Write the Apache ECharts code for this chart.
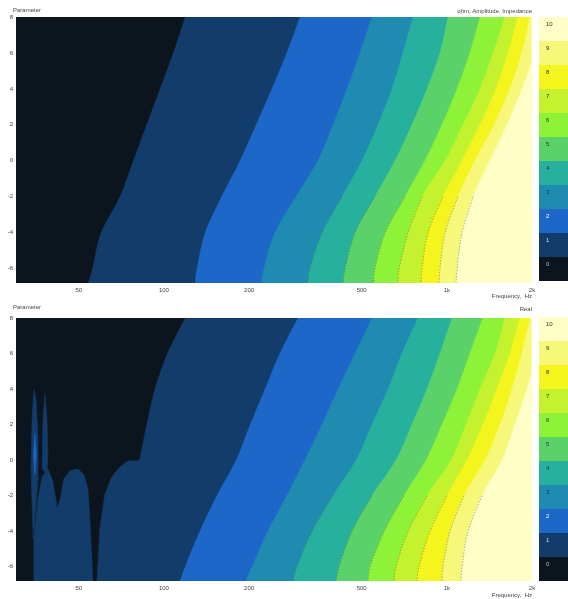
<!DOCTYPE html>
<html><head><meta charset="utf-8">
<script src="https://cdn.jsdelivr.net/npm/echarts@6/dist/echarts.min.js"></script>
<style>html,body{margin:0;padding:0;background:#fff}#c{width:568px;height:599px}</style>
</head><body><div id="c"></div>
<script>
// ---- axes / scale data ----
const params = [8, 6, 4, 2, 0, -2, -4, -6, -6.8];
const levels = [0, 1, 2, 3, 4, 5, 6, 7, 8, 9, 10];
const levelColors = ['#0c141e','#123c6a','#1c67c8','#1f8bb1','#27b09e','#5bd16a','#8df238','#c4f22e','#f5f51e','#f7f77a','#fefec6'];
const levelLabelColors = ['#bbbbbb','#dddddd','#ffffff','#223344','#333','#333','#333','#333','#333','#333','#333'];
const xTicks = [50, 100, 200, 500, 1000, 2000];
const yTicks = [-6, -4, -2, 0, 2, 4, 6, 8];
const freqMin = 30, freqMax = 2000, paramMin = -6.8, paramMax = 8;

// ---- top chart: ohm, Amplitude, Impedance — frequency (Hz) where level k begins, per params row ----
const ampB1  = [119, 108, 97, 87, 78, 70, 60, 56, 54];
const ampB2  = [303, 272, 241, 212, 186, 160, 140, 131, 129];
const ampB3  = [544, 493, 444, 396, 350, 293, 247, 226, 222];
const ampB4  = [760, 700, 640, 571, 501, 426, 362, 328, 323];
const ampB5  = [1010, 946, 851, 753, 656, 557, 474, 437, 430];
const ampB6  = [1310, 1207, 1087, 962, 837, 711, 605, 557, 553];
const ampB7  = [1605, 1457, 1310, 1141, 985, 817, 729, 678, 672];
const ampB8  = [1785, 1645, 1492, 1310, 1132, 969, 858, 817, 811];
const ampB9  = [1968, 1843, 1672, 1469, 1258, 1095, 985, 946, 938];
const ampB10 = [2223, 2050, 1843, 1632, 1421, 1238, 1132, 1087, 1078];

// ---- bottom chart: Real ----
const realB1  = [119, 103, 93, 87, 82, 77, 73, 71, 70];
const realB2  = [298, 257, 228, 202, 180, 154, 134, 119, 114];
const realB3  = [544, 474, 413, 362, 315, 272, 233, 205, 195];
const realB4  = [791, 694, 620, 544, 478, 396, 334, 295, 286];
const realB5  = [1043, 946, 851, 753, 661, 544, 462, 416, 406];
const realB6  = [1342, 1207, 1087, 962, 844, 706, 600, 535, 527];
const realB7  = [1605, 1480, 1310, 1169, 1035, 851, 729, 661, 651];
const realB8  = [1813, 1672, 1504, 1342, 1178, 1001, 872, 797, 785];
const realB9  = [1968, 1843, 1700, 1541, 1364, 1150, 1026, 969, 962];
const realB10 = [2223, 2083, 1921, 1741, 1567, 1332, 1188, 1132, 1122];
// low-frequency islands of the Real chart: [frequency Hz, parameter]
const realIsland1Left  = [[34.7,-6.8],[34.7,-4.4],[35.9,-2.17],[37.1,-0.94],[38.9,-0.49],[40.5,-1.2],[42.0,-2.7],[43.0,-2.2],[44.3,-1.05],[46.6,-0.6],[49.7,-0.49],[52.2,-0.83],[53.9,-1.61],[55.2,-4.4],[56.1,-6.8]];
const realIsland1Right = [[58.0,-6.8],[59.4,-3.84],[61.9,-1.89],[65.5,-0.94],[69.9,-0.38],[74.7,-0.04],[82.3,-0.04],[82.3,-6.8]];
const realStreakA = [[33.9,-0.49],[34.2,2.3],[34.7,3.98],[35.3,3.42],[35.9,1.18],[35.9,-1.05],[35.0,-3.28],[34.5,-4.4]];
const realStreakB = [[37.1,-0.49],[37.4,2.3],[38.0,3.7],[38.6,2.3],[38.9,0.35],[38.6,-0.77]];
const realSpot2   = [[35.0,1.5],[35.4,0.35],[35.0,-0.8],[34.6,0.35]];

const ampBounds  = [ampB1, ampB2, ampB3, ampB4, ampB5, ampB6, ampB7, ampB8, ampB9, ampB10];
const realBounds = [realB1, realB2, realB3, realB4, realB5, realB6, realB7, realB8, realB9, realB10];

// smooth a pixel polyline (Catmull-Rom) for drawing
function smoothPx(pts, n) {
  if (pts.length < 3) return pts;
  const out = [];
  for (let i = 0; i < pts.length - 1; i++) {
    const p0 = pts[Math.max(0, i - 1)], p1 = pts[i], p2 = pts[i + 1], p3 = pts[Math.min(pts.length - 1, i + 2)];
    for (let s = 0; s < n; s++) {
      const t = s / n, t2 = t * t, t3 = t2 * t;
      out.push([0, 1].map(k => 0.5 * ((2 * p1[k]) + (-p0[k] + p2[k]) * t + (2 * p0[k] - 5 * p1[k] + 4 * p2[k] - p3[k]) * t2 + (-p0[k] + 3 * p1[k] - 3 * p2[k] + p3[k]) * t3)));
    }
  }
  out.push(pts[pts.length - 1]);
  return out;
}

function buildShapes(bounds, extras) {
  const shapes = [];
  bounds.forEach((b, i) => {
    shapes.push({ level: i + 1, bound: b });
    extras.filter(e => e.level === i + 1).forEach(e => shapes.push(e));
  });
  return shapes;
}
const ampShapes = buildShapes(ampBounds, []);
const realShapes = buildShapes(realBounds, [
  { level: 1, pts: realIsland1Left }, { level: 1, pts: realIsland1Right },
  { level: 1, pts: realStreakA }, { level: 1, pts: realStreakB },
  { level: 2, pts: realSpot2 }
]);

function makeRender(shapes, bounds) {
  return function (p, api) {
    const cs = p.coordSys;
    const rect = { x: cs.x, y: cs.y, width: cs.width, height: cs.height };
    const toPx = q => api.coord([Math.log10(q[0]), q[1]]);
    const clip = pts => echarts.graphic.clipPointsByRect(pts, rect);
    const children = shapes.map(s => {
      let pts;
      if (s.bound) {
        pts = smoothPx(s.bound.map((f, i) => toPx([f, params[i]])), 6);
        pts.push(toPx([freqMax, paramMin]), toPx([freqMax, paramMax]));
      } else {
        pts = s.pts.map(toPx);
      }
      return {
        type: 'polygon',
        shape: { points: clip(pts) },
        style: { fill: levelColors[s.level], stroke: levelColors[s.level], lineWidth: 0.6 }
      };
    });
    bounds.forEach((b, i) => {
      if (i < 3) return;
      const pts = [];
      b.forEach((f, j) => { if (params[j] <= -2) pts.push(toPx([f, params[j]])); });
      children.push({
        type: 'polyline',
        shape: { points: clip(smoothPx(pts, 6)) },
        style: { stroke: 'rgba(80,80,50,0.45)', lineWidth: 1, lineDash: [1.5, 1.5], fill: null }
      });
    });
    return { type: 'group', children };
  };
}

const fontFam = 'Liberation Sans, Arial, sans-serif';
function fmtFreq(v) {
  const f = Math.round(Math.pow(10, v));
  return f >= 1000 ? (f / 1000) + 'k' : String(f);
}
function xAxisFor(gi) {
  return {
    type: 'value', gridIndex: gi, min: Math.log10(freqMin), max: Math.log10(freqMax),
    axisLine: { show: false }, axisTick: { show: false }, splitLine: { show: false },
    axisLabel: { customValues: xTicks.map(Math.log10), formatter: fmtFreq, fontSize: 6, color: '#444', margin: 4, fontFamily: fontFam }
  };
}
function yAxisFor(gi) {
  return {
    type: 'value', gridIndex: gi, min: paramMin, max: paramMax,
    axisLine: { show: false }, axisTick: { show: false }, splitLine: { show: false },
    axisLabel: { customValues: yTicks, fontSize: 6, color: '#444', margin: 3, fontFamily: fontFam }
  };
}
function cbarSeries(idx) {
  return {
    type: 'bar', xAxisIndex: idx, yAxisIndex: idx, barCategoryGap: '0%', silent: true,
    data: levels.map(l => ({
      value: 1, itemStyle: { color: levelColors[l] },
      label: { show: true, position: 'insideTopLeft', distance: 3, formatter: String(l), color: levelLabelColors[l], fontSize: 6, fontFamily: fontFam, offset: [4, 1] }
    }))
  };
}
const txt = (text, opts) => ({ text, padding: 0, ...opts, textStyle: { fontSize: 6, color: '#444', fontWeight: 'normal', fontFamily: fontFam } });

const chart = echarts.init(document.getElementById('c'), null, { renderer: 'canvas' });
chart.setOption({
  animation: false,
  backgroundColor: '#fff',
  title: [
    txt('Parameter', { left: 13, top: 7 }),
    txt('ohm, Amplitude, Impedance', { right: 36, top: 8 }),
    txt('Frequency,  Hz', { right: 36, top: 293 }),
    txt('Parameter', { left: 13, top: 304 }),
    txt('Real', { right: 36, top: 306 }),
    txt('Frequency,  Hz', { right: 36, top: 592 })
  ],
  grid: [
    { left: 16, top: 17, width: 516, height: 266, show: true, backgroundColor: levelColors[0], borderWidth: 0 },
    { left: 16, top: 318, width: 516, height: 263, show: true, backgroundColor: levelColors[0], borderWidth: 0 },
    { left: 539, top: 17, width: 29, height: 264 },
    { left: 539, top: 317, width: 29, height: 264 }
  ],
  xAxis: [
    xAxisFor(0), xAxisFor(1),
    { type: 'value', gridIndex: 2, min: 0, max: 1, show: false },
    { type: 'value', gridIndex: 3, min: 0, max: 1, show: false }
  ],
  yAxis: [
    yAxisFor(0), yAxisFor(1),
    { type: 'category', gridIndex: 2, data: levels.map(String), show: false },
    { type: 'category', gridIndex: 3, data: levels.map(String), show: false }
  ],
  series: [
    { type: 'custom', xAxisIndex: 0, yAxisIndex: 0, clip: true, silent: true,
      data: [[Math.log10(100), 0]], renderItem: makeRender(ampShapes, ampBounds) },
    { type: 'custom', xAxisIndex: 1, yAxisIndex: 1, clip: true, silent: true,
      data: [[Math.log10(100), 0]], renderItem: makeRender(realShapes, realBounds) },
    cbarSeries(2), cbarSeries(3)
  ]
});
</script></body></html>
